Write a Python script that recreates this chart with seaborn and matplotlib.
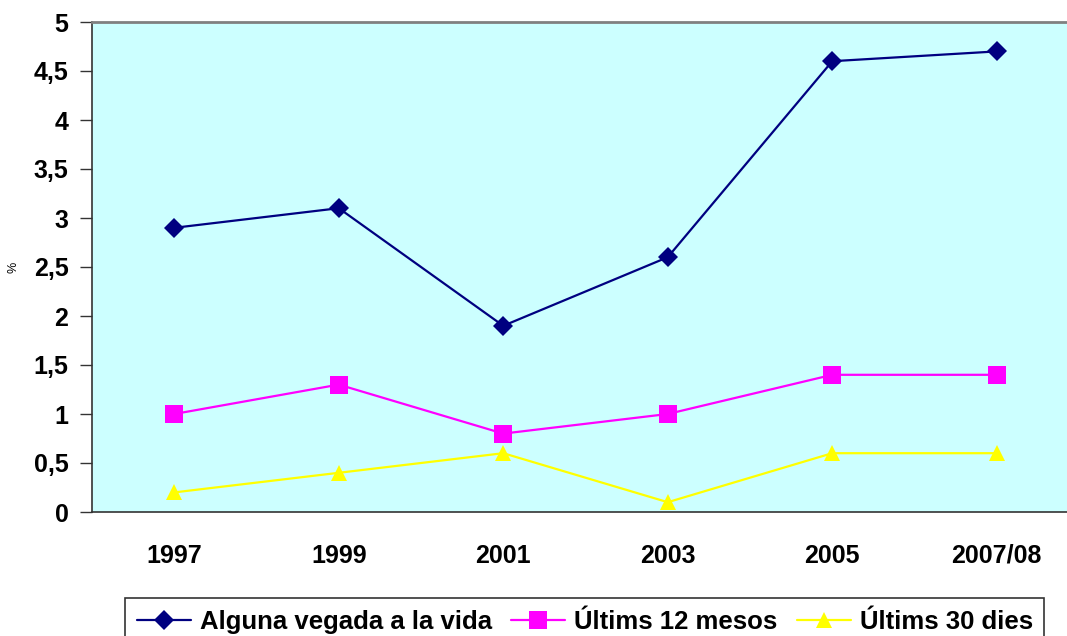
import pandas as pd
import numpy as np
import matplotlib
matplotlib.use("Agg")
import matplotlib.pyplot as plt
import seaborn as sns

# Data
years = ["1997", "1999", "2001", "2003", "2005", "2007/08"]
alguna_vegada = [2.9, 3.1, 1.9, 2.6, 4.6, 4.7]
ultims_12 = [1.0, 1.3, 0.8, 1.0, 1.4, 1.4]
ultims_30 = [0.2, 0.4, 0.6, 0.1, 0.6, 0.6]
series_names = ["Alguna vegada a la vida", "Últims 12 mesos", "Últims 30 dies"]
y_ticks = [0, 0.5, 1, 1.5, 2, 2.5, 3, 3.5, 4, 4.5, 5]

# long-form table for seaborn
df = pd.DataFrame({
    "pos": list(range(len(years))) * 3,
    "valor": alguna_vegada + ultims_12 + ultims_30,
    "serie": [s for s in series_names for _ in years],
})

sns.set_style("white")
plt.rcParams["font.family"] = ["Liberation Sans", "DejaVu Sans"]
plt.rcParams["font.weight"] = "bold"
plt.rcParams["text.color"] = "black"
plt.rcParams["axes.labelcolor"] = "black"
plt.rcParams["xtick.color"] = "black"
plt.rcParams["ytick.color"] = "black"

fig = plt.figure(figsize=(10.67, 6.36), dpi=100)
ax = fig.add_axes([92 / 1067, 1 - 512 / 636, (1079 - 92) / 1067, (512 - 22) / 636])
ax.set_facecolor("#CCFFFF")

palette = {series_names[0]: "#000080", series_names[1]: "#FF00FF", series_names[2]: "#FFFF00"}
markers = {series_names[0]: "D", series_names[1]: "s", series_names[2]: "^"}
sizes = {series_names[0]: 10.5, series_names[1]: 13, series_names[2]: 12}

for name in series_names:
    sub = df[df["serie"] == name]
    sns.lineplot(data=sub, x="pos", y="valor", ax=ax, color=palette[name],
                 marker=markers[name], markersize=sizes[name], markeredgewidth=0,
                 linewidth=1.6, label=name, sort=False, legend=False)

ax.set_xlim(-0.5, len(years) - 0.5)
ax.set_ylim(0, 5)
ax.set_xticks(range(len(years)))
ax.set_xticklabels(years, fontsize=18, fontweight="bold")
ax.set_xticks(np.arange(-0.5, len(years), 1), minor=True)
ax.tick_params(axis="x", which="major", length=0, pad=23)
ax.tick_params(axis="x", which="minor", length=9, width=1, color="#333333", direction="out")
ax.set_yticks(y_ticks)
ax.set_yticklabels([f"{v:g}".replace(".", ",") for v in y_ticks], fontsize=18, fontweight="bold")
ax.tick_params(axis="y", length=9, width=1, color="#333333", direction="out", pad=8, left=True)

ax.set_xlabel("")
ax.set_ylabel("%", fontsize=9, fontweight="normal", labelpad=10)

for side in ["left", "bottom"]:
    ax.spines[side].set_color("#333333")
    ax.spines[side].set_linewidth(1.2)
for side in ["top", "right"]:
    ax.spines[side].set_color("#808080")
    ax.spines[side].set_linewidth(2)

handles, labels = ax.get_legend_handles_labels()
leg = fig.legend(handles, labels, loc="upper center", bbox_to_anchor=(0.548, 1 - 598 / 636),
                 ncol=3, frameon=True, fancybox=False, edgecolor="black",
                 prop={"size": 18.5, "weight": "bold"}, handlelength=2.1,
                 handletextpad=0.35, columnspacing=0.75, borderpad=0.45, borderaxespad=0)
leg.get_frame().set_linewidth(1.2)

fig.savefig("out.png", dpi=100)
